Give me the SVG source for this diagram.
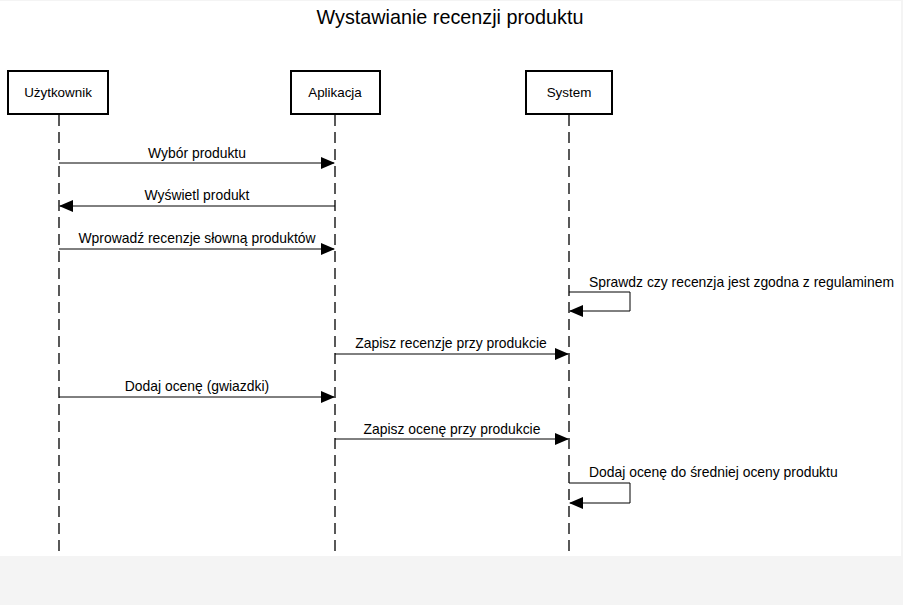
<svg xmlns="http://www.w3.org/2000/svg" width="903" height="605" viewBox="0 0 903 605">
<defs>
<style>
text{font-family:"Liberation Sans",Arial,sans-serif;fill:#000}
.lbl{font-size:13.9px}
.nm{font-size:13.4px}
.box{fill:#fff;stroke:#000;stroke-width:2}
.life{stroke:#000;stroke-width:1.3;stroke-dasharray:11,6;fill:none}
.msg{stroke:#000;stroke-width:1;fill:none;marker-end:url(#ah)}
</style>
<marker id="ah" markerWidth="14" markerHeight="12" refX="13" refY="6" orient="auto" markerUnits="userSpaceOnUse">
<path d="M0,0 L14,6 L0,12 Z" fill="#000"/>
</marker>
</defs>
<rect x="0" y="0" width="903" height="605" fill="#f4f4f4"/>
<rect x="0" y="1" width="901" height="555" fill="#fff"/>
<text x="450" y="24" font-size="19.8" text-anchor="middle">Wystawianie recenzji produktu</text>
<g id="uzytkownik">
<rect class="box" x="8" y="71" width="100" height="43"/>
<text class="nm" x="58" y="97" text-anchor="middle">Użytkownik</text>
<line class="life" x1="59" y1="115" x2="59" y2="556"/>
</g>
<g id="aplikacja">
<rect class="box" x="291" y="71" width="89" height="43"/>
<text class="nm" x="335" y="97" text-anchor="middle">Aplikacja</text>
<line class="life" x1="335" y1="115" x2="335" y2="556"/>
</g>
<g id="system">
<rect class="box" x="526" y="71" width="86" height="43"/>
<text class="nm" x="569" y="97" text-anchor="middle">System</text>
<line class="life" x1="569" y1="115" x2="569" y2="556"/>
</g>
<g id="connectors">
<line class="msg" x1="59" y1="163" x2="334" y2="163"/>
<text class="lbl" x="197" y="158" text-anchor="middle">Wybór produktu</text>
<line class="msg" x1="335" y1="206" x2="60" y2="206"/>
<text class="lbl" x="197" y="200" text-anchor="middle">Wyświetl produkt</text>
<line class="msg" x1="59" y1="249" x2="334" y2="249"/>
<text class="lbl" x="197" y="243" text-anchor="middle">Wprowadź recenzje słowną produktów</text>
<path class="msg" d="M569,292 H630 V311 H570"/>
<text class="lbl" x="589" y="287">Sprawdz czy recenzja jest zgodna z regulaminem</text>
<line class="msg" x1="335" y1="354" x2="568" y2="354"/>
<text class="lbl" x="451" y="348" text-anchor="middle">Zapisz recenzje przy produkcie</text>
<line class="msg" x1="59" y1="397" x2="334" y2="397"/>
<text class="lbl" x="197" y="391" text-anchor="middle">Dodaj ocenę (gwiazdki)</text>
<line class="msg" x1="335" y1="439" x2="568" y2="439"/>
<text class="lbl" x="452" y="434" text-anchor="middle">Zapisz ocenę przy produkcie</text>
<path class="msg" d="M569,483 H630 V503 H570"/>
<text class="lbl" x="589" y="477">Dodaj ocenę do średniej oceny produktu</text>
</g>
</svg>
